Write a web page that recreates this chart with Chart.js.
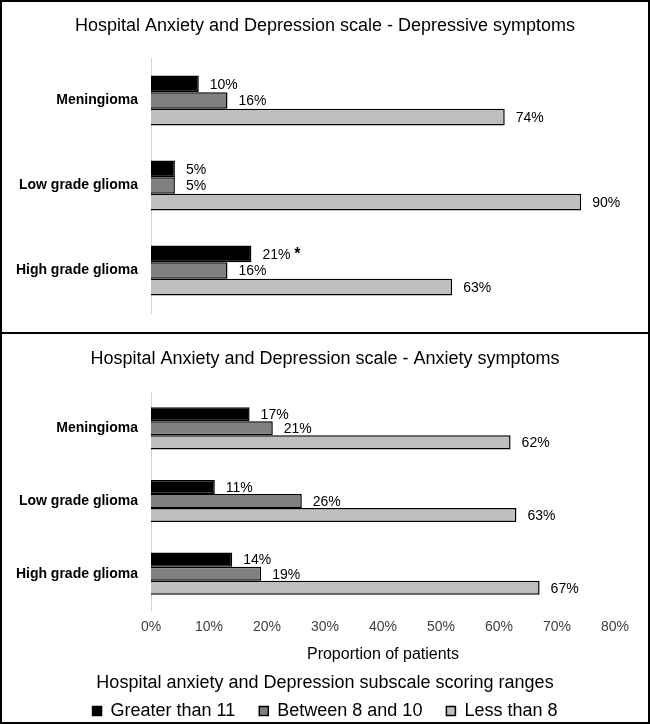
<!DOCTYPE html>
<html><head><meta charset="utf-8">
<script src="https://cdn.jsdelivr.net/npm/chart.js@4"></script>
<style>
html,body{margin:0;padding:0;background:#fff;overflow:hidden;}
#wrap{position:relative;width:650px;height:724px;overflow:hidden;background:#fff;}
#c1{position:absolute;left:0;top:0;}
#c2{position:absolute;left:0;top:333px;}
#frame{position:absolute;left:0;top:0;width:650px;height:724px;box-sizing:border-box;border:2px solid #000;pointer-events:none;}
#divider{position:absolute;left:0;top:332px;width:650px;height:2px;background:#000;}
</style></head>
<body><div id="wrap">
<canvas id="c1" width="650" height="333"></canvas>
<canvas id="c2" width="650" height="397"></canvas>
<div id="divider"></div><div id="frame"></div>
</div>
<script>
const categories = ['Meningioma', 'Low grade glioma', 'High grade glioma'];
const seriesNames = ['Greater than 11', 'Between 8 and 10', 'Less than 8'];
const depGreater = [10, 5, 21];
const depBetween = [16, 5, 16];
const depLess = [74, 90, 63];
const anxGreater = [17, 11, 14];
const anxBetween = [21, 26, 19];
const anxLess = [62, 63, 67];
const depMarks = [['', '', '*'], ['', '', ''], ['', '', '']];
const xTicks = [0, 10, 20, 30, 40, 50, 60, 70, 80];
const barColors = ['#000000', '#808080', '#bfbfbf'];

const FONT = "'Liberation Sans', Arial, sans-serif";
Chart.defaults.font.family = FONT;
Chart.defaults.color = '#000';

function makeDatasets(arrs, catPct) {
  return arrs.map((d, i) => ({
    label: seriesNames[i], data: d, yAxisID: 'y',
    backgroundColor: barColors[i], borderColor: '#000', borderWidth: 1.5,
    borderSkipped: 'start', barPercentage: 1, categoryPercentage: catPct
  }));
}

const labelPlugin = {
  id: 'barLabels',
  afterDatasetsDraw(chart, args, opts) {
    const ctx = chart.ctx;
    ctx.save();
    ctx.fillStyle = '#000';
    ctx.textAlign = 'left';
    ctx.textBaseline = 'middle';
    chart.data.datasets.forEach((ds, di) => {
      const meta = chart.getDatasetMeta(di);
      meta.data.forEach((el, i) => {
        const txt = ds.data[i] + '%';
        ctx.font = '14px ' + FONT;
        ctx.fillText(txt, el.x + 11, el.y + 1);
        const mark = (opts.marks && opts.marks[di] && opts.marks[di][i]) || '';
        if (mark) {
          const w = ctx.measureText(txt + ' ').width;
          ctx.font = 'bold 16px ' + FONT;
          ctx.fillText(mark, el.x + 11 + w, el.y + 1);
        }
      });
    });
    ctx.restore();
  }
};

function yAxis() {
  return {
    position: 'left',
    grid: {display: false, drawTicks: false},
    border: {display: true, color: '#d4d4d4', width: 1},
    ticks: {font: {size: 14, weight: 'bold'}, color: '#000', padding: 13},
    afterFit(s) { s.width = 151; s.paddingTop = 0; s.paddingBottom = 0; }
  };
}
// empty spacer axis on the right so the plot area ends where the reference's does
function rightSpacer(w) {
  return {
    type: 'category', position: 'right', display: true,
    grid: {display: false, drawTicks: false}, border: {display: false},
    ticks: {display: false},
    afterFit(s) { s.width = w; s.paddingTop = 0; s.paddingBottom = 0; }
  };
}

new Chart(document.getElementById('c1'), {
  type: 'bar',
  data: {labels: categories, datasets: makeDatasets([depGreater, depBetween, depLess], 0.59)},
  options: {
    indexAxis: 'y', responsive: false, animation: false, events: [],
    layout: {padding: {left: 0, right: 0, top: 0, bottom: 20}},
    scales: {
      y: yAxis(),
      yR: rightSpacer(21),
      x: {display: false, min: 0, max: 100}
    },
    plugins: {
      legend: {display: false}, tooltip: {enabled: false},
      title: {display: true, text: 'Hospital Anxiety and Depression scale - Depressive symptoms',
        font: {size: 18, weight: 'normal'}, color: '#000', padding: {top: 15.5, bottom: 20.9}},
      barLabels: {marks: depMarks}
    }
  },
  plugins: [labelPlugin]
});

new Chart(document.getElementById('c2'), {
  type: 'bar',
  data: {labels: categories, datasets: makeDatasets([anxGreater, anxBetween, anxLess], 0.58)},
  options: {
    indexAxis: 'y', responsive: false, animation: false, events: [],
    layout: {padding: {left: 0, right: 0, top: 0, bottom: 0}},
    scales: {
      y: yAxis(),
      yR: rightSpacer(35),
      x: {
        min: 0, max: 80,
        grid: {display: false, drawTicks: false}, border: {display: false},
        afterBuildTicks(s) { s.ticks = xTicks.map(v => ({value: v})); },
        ticks: {font: {size: 14}, color: '#404040', padding: 8.6, callback: v => v + '%'},
        title: {display: true, text: 'Proportion of patients', font: {size: 16}, color: '#000',
          padding: {top: 0.7, bottom: 10.3}}
      }
    },
    plugins: {
      tooltip: {enabled: false},
      title: {display: true, text: 'Hospital Anxiety and Depression scale - Anxiety symptoms',
        font: {size: 18, weight: 'normal'}, color: '#000', padding: {top: 15.2, bottom: 22.2}},
      legend: {
        display: true, position: 'bottom',
        labels: {boxWidth: 9, boxHeight: 9, padding: 24, font: {size: 18}, color: '#000'},
        title: {display: true, text: 'Hospital anxiety and Depression subscale scoring ranges',
          font: {size: 18}, color: '#000', padding: {top: 0, bottom: -17.8}}
      },
      barLabels: {marks: null}
    }
  },
  plugins: [labelPlugin]
});
</script>
</body></html>
